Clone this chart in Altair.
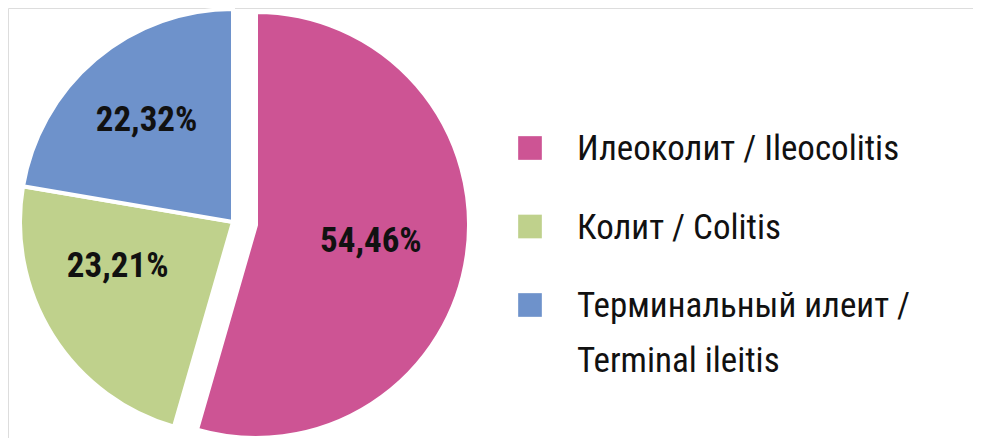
import altair as alt
import pandas as pd

categories = ["Илеоколит / Ileocolitis", "Колит / Colitis", "Терминальный илеит /\nTerminal ileitis"]
values = [54.46, 23.21, 22.32]
order = [0, 1, 2]
colors = ["#CD5494", "#BFD18C", "#6E92CB"]

df = pd.DataFrame({"cat": categories, "value": values, "order": order})

FONT = "Roboto Condensed"

base = alt.Chart(df).transform_joinaggregate(
    total="sum(value)"
).transform_window(
    cum="sum(value)", sort=[alt.SortField("order")], frame=[None, 0]
).transform_calculate(
    end="datum.cum / datum.total",
    start="(datum.cum - datum.value) / datum.total",
    mid="(datum.cum - datum.value / 2) / datum.total",
    label="replace(format(datum.value, '.2f'), '.', ',') + '%'",
)

theta_scale = alt.Scale(domain=[0, 1], range=[0, 6.283185307])
color_enc = alt.Color("cat:N", scale=alt.Scale(domain=categories, range=colors), legend=None)

main_x, main_y = 225, 214
exp_x, exp_y = 248, 217
R = 213

arc_main = base.transform_filter("datum.order == 0").mark_arc(
    outerRadius=R, stroke="white", strokeWidth=4
).encode(
    theta=alt.Theta("start:Q", scale=theta_scale),
    theta2="end:Q",
    color=color_enc,
    x=alt.value(exp_x), y=alt.value(exp_y),
)

arc_rest = base.transform_filter("datum.order > 0").mark_arc(
    outerRadius=R, stroke="white", strokeWidth=4
).encode(
    theta=alt.Theta("start:Q", scale=theta_scale),
    theta2="end:Q",
    color=color_enc,
    x=alt.value(main_x), y=alt.value(main_y),
)

txt_style = dict(font=FONT, fontSize=35, fontWeight="bold", color="#111111",
                 align="center", baseline="middle")

txt_main = base.transform_filter("datum.order == 0").mark_text(radius=116, **txt_style).encode(
    theta=alt.Theta("mid:Q", scale=theta_scale), text="label:N",
    x=alt.value(exp_x), y=alt.value(exp_y),
)
txt_green = base.transform_filter("datum.order == 1").mark_text(radius=122, dx=-12, dy=-21, **txt_style).encode(
    theta=alt.Theta("mid:Q", scale=theta_scale), text="label:N",
    x=alt.value(main_x), y=alt.value(main_y),
)
txt_blue = base.transform_filter("datum.order == 2").mark_text(radius=134, **txt_style).encode(
    theta=alt.Theta("mid:Q", scale=theta_scale), text="label:N",
    x=alt.value(main_x), y=alt.value(main_y),
)

ypos = alt.Y("cat:N", sort=categories, axis=None,
             scale=alt.Scale(type="point", range=[140, 297], padding=0))

leg_sq = alt.Chart(df).mark_square(size=560, opacity=1).encode(
    x=alt.value(522), y=ypos, color=color_enc,
)
leg_txt = alt.Chart(df).mark_text(
    font=FONT, fontSize=35, align="left", baseline="alphabetic", dy=12,
    lineBreak="\n", lineHeight=55, color="#111111",
).encode(
    x=alt.value(569), y=ypos, text="cat:N",
)

chart = alt.layer(arc_main, arc_rest, txt_main, txt_green, txt_blue, leg_sq, leg_txt).properties(
    width=965, height=430, padding=0, autosize=alt.AutoSizeParams(type="none"),
).configure_view(stroke=None).configure(background="white")

chart.save("out.html", embed_options={"renderer": "svg", "actions": False})
